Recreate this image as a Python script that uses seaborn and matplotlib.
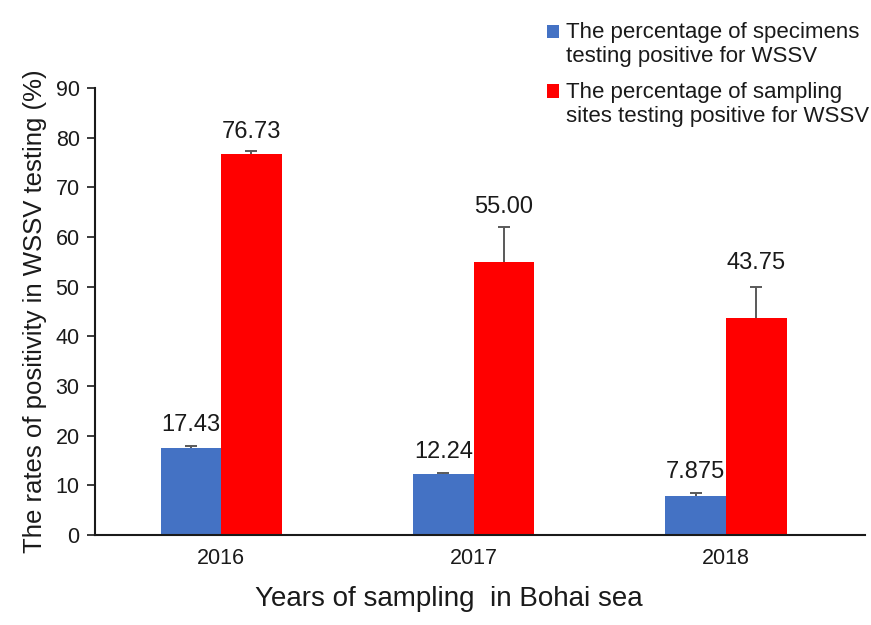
import pandas as pd
import seaborn as sns
import matplotlib.pyplot as plt

# Data
years = ["2016", "2017", "2018"]
specimens = [17.43, 12.24, 7.875]
specimens_err = [0.4, 0.2, 0.5]
sites = [76.73, 55.00, 43.75]
sites_err = [0.6, 7.0, 6.25]
spec_labels = ["17.43", "12.24", "7.875"]
site_labels = ["76.73", "55.00", "43.75"]
# label centre heights (data units) as placed in the original figure
spec_label_y = [22.2, 16.8, 12.6]
site_label_y = [81.1, 66.0, 54.8]

series = ["The percentage of specimens\ntesting positive for WSSV",
          "The percentage of sampling\nsites testing positive for WSSV"]
colors = ["#4472C4", "#FF0000"]

df = pd.DataFrame({
    "year": years * 2,
    "value": specimens + sites,
    "series": [series[0]] * 3 + [series[1]] * 3,
})

sns.set_style("ticks")
plt.rcParams["font.family"] = ["Liberation Sans", "DejaVu Sans"]
txt = "#1a1a1a"

fig = plt.figure(figsize=(8.71, 6.25), dpi=100)
ax = fig.add_axes([0.109, 0.144, 0.884, 0.715])

sns.barplot(data=df, x="year", y="value", hue="series", palette=colors,
            width=0.48, gap=0, errorbar=None, saturation=1, linewidth=0, ax=ax)

# error bars (upper only) and value labels
errs = [specimens_err, sites_err]
vals = [specimens, sites]
labs = [spec_labels, site_labels]
laby = [spec_label_y, site_label_y]
bar_groups = list(ax.containers)
for i, cont in enumerate(bar_groups):
    xs = [p.get_x() + p.get_width() / 2 for p in cont.patches]
    eb = ax.errorbar(xs, vals[i], yerr=[[0] * 3, errs[i]], fmt="none",
                     ecolor="#595959", elinewidth=1.4, capsize=4.5, capthick=1.4)
    eb.lines[1][0].set_visible(False)  # hide lower caps
    for x, y, t in zip(xs, laby[i], labs[i]):
        ax.text(x, y, t, ha="center", va="center", fontsize=17, color=txt)

ax.set_ylim(0, 90)
ax.set_yticks(range(0, 91, 10))
ax.set_xlim(-0.5, 2.55)
ax.set_xlabel("Years of sampling  in Bohai sea", fontsize=20, labelpad=18, color=txt)
ax.xaxis.set_label_coords(0.46, -0.115)
ax.set_ylabel("The rates of positivity in WSSV testing (%)", fontsize=18.5,
              labelpad=6, color=txt)
ax.tick_params(axis="both", labelsize=15.5, labelcolor=txt, color=txt, width=1.2)
ax.tick_params(axis="x", length=0, pad=9)
ax.tick_params(axis="y", length=6, pad=5)
sns.despine(ax=ax)
for s in ["left", "bottom"]:
    ax.spines[s].set_linewidth(1.5)
    ax.spines[s].set_color(txt)

leg = ax.legend(loc="upper left", bbox_to_anchor=(0.628, 0.965),
                bbox_transform=fig.transFigure, frameon=False, fontsize=16,
                handlelength=0.55, handleheight=0.55, handletextpad=0.3,
                labelspacing=0.65, borderaxespad=0, borderpad=0)
for t in leg.get_texts():
    t.set_color(txt)
# put the colour square beside the first line of each label
for h in leg.legend_handles:
    h.set_y(h.get_y() + 0.6 * 16)

fig.savefig("out.png", dpi=100)
